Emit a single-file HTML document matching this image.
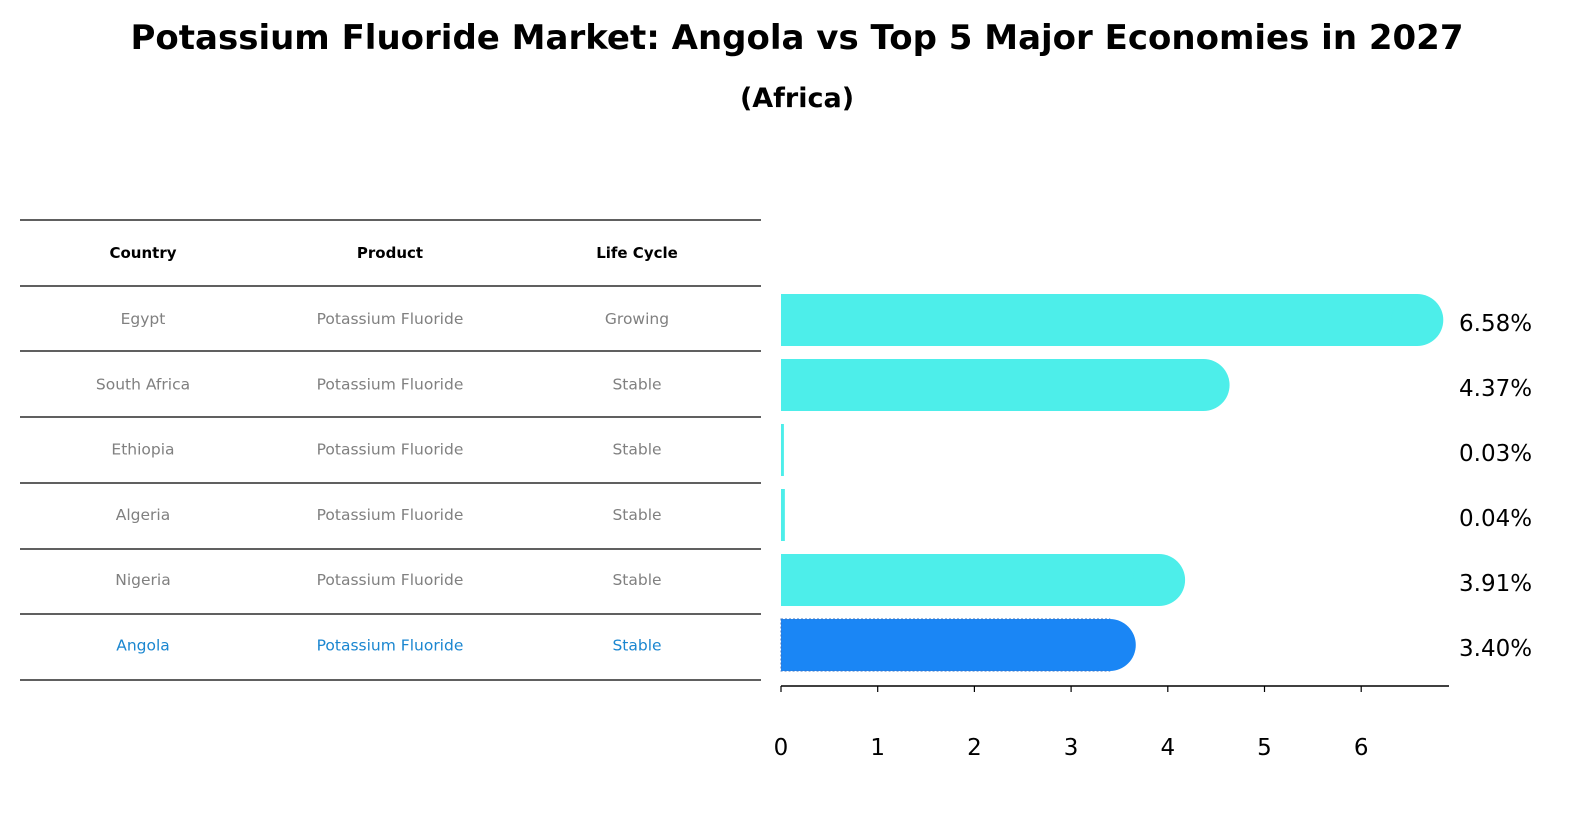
<!DOCTYPE html>
<html><head><meta charset="utf-8"><style>
body{margin:0;background:#fff;font-family:"Liberation Sans","DejaVu Sans",sans-serif;}
</style></head><body>
<svg id="chart" width="1589" height="823" xmlns="http://www.w3.org/2000/svg">
<text x="797" y="49" text-anchor="middle" font-size="34" font-weight="bold" font-family="DejaVu Sans, Liberation Sans, sans-serif">Potassium Fluoride Market: Angola vs Top 5 Major Economies in 2027</text>
<text x="797" y="107" text-anchor="middle" font-size="27" font-weight="bold" font-family="DejaVu Sans, Liberation Sans, sans-serif">(Africa)</text>
<g id="table"></g>
<g id="bars"></g>
<g id="axis"></g>
</svg>
<script>
const countries=["Egypt","South Africa","Ethiopia","Algeria","Nigeria","Angola"];
const products=["Potassium Fluoride","Potassium Fluoride","Potassium Fluoride","Potassium Fluoride","Potassium Fluoride","Potassium Fluoride"];
const lifeCycles=["Growing","Stable","Stable","Stable","Stable","Stable"];
const values=[6.58,4.37,0.03,0.04,3.91,3.40];
const ticks=[0,1,2,3,4,5,6];
const NS="http://www.w3.org/2000/svg";
const x0=781,pxPer=96.7;
const xs=v=>x0+v*pxPer;
const rowY=i=>320+i*65;
function mk(tag,attrs,parent,txt){const e=document.createElementNS(NS,tag);for(const k in attrs)e.setAttribute(k,attrs[k]);if(txt!==undefined)e.textContent=txt;parent.appendChild(e);return e;}
const tbl=document.getElementById('table');
const lineYs=[220,286,351,417,483,549,614,680];
lineYs.forEach((y,i)=>{const l=mk('line',{x1:20,x2:761,y1:y,y2:y,stroke:'#000','stroke-width':1.2},tbl);

});
const colX=[143,390,637];
["Country","Product","Life Cycle"].forEach((h,j)=>{const t=mk('text',{x:colX[j],y:258,'text-anchor':'middle','font-size':15,'font-weight':'bold','font-family':'DejaVu Sans, Liberation Sans, sans-serif'},tbl,h);

});
countries.forEach((c,i)=>{const col=c==="Angola"?"#1a86d0":"#808080";
[c,products[i],lifeCycles[i]].forEach((v,j)=>{const t=mk('text',{x:colX[j],y:324+i*65.3,'text-anchor':'middle','font-size':15.5,fill:col,'font-family':'DejaVu Sans, Liberation Sans, sans-serif'},tbl,v);

});});
const bars=document.getElementById('bars');
values.forEach((v,i)=>{const cy=rowY(i),h=52,r=26;const isA=countries[i]==="Angola";
const col=isA?"#1a86f5":"#4deeea";
const g=mk('g',{},bars);


mk('rect',{x:x0,y:cy-h/2,width:Math.max(xs(v)-x0,1),height:h,fill:col,stroke:isA?'#3a70c0':'none','stroke-dasharray':isA?'2,2':'none'},g);
if(v>0.2)mk('circle',{cx:xs(v),cy:cy,r:r,fill:col},g);
const t=mk('text',{x:1459,y:cy+11,'font-size':23,'font-family':'DejaVu Sans, Liberation Sans, sans-serif'},bars,v.toFixed(2)+'%');

});
const ax=document.getElementById('axis');
mk('line',{x1:x0,x2:1449,y1:686,y2:686,stroke:'#000','stroke-width':1.5},ax);
ticks.forEach(t=>{mk('line',{x1:xs(t),x2:xs(t),y1:686,y2:692,stroke:'#000','stroke-width':1.2},ax);
const tx=mk('text',{x:xs(t),y:755,'text-anchor':'middle','font-size':23,'font-family':'DejaVu Sans, Liberation Sans, sans-serif'},ax,String(t));

});
</script>
</body></html>
